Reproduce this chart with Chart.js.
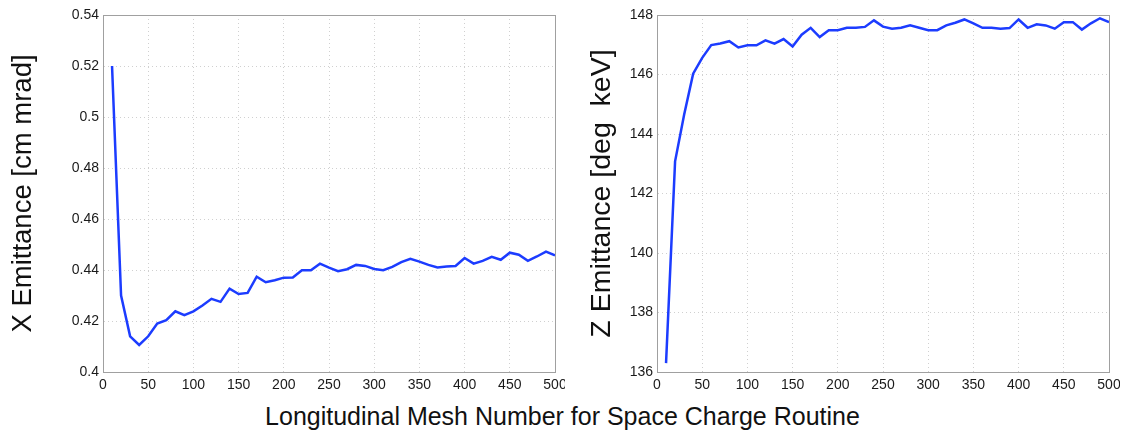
<!DOCTYPE html>
<html>
<head>
<meta charset="utf-8">
<script src="https://cdn.jsdelivr.net/npm/chart.js@4"></script>
<style>
  body { margin: 0; background: #fff; }
  #wrap { position: relative; width: 1125px; height: 435px; font-family: "Liberation Sans", Arial, sans-serif; }
  #leftBox { position: absolute; left: 0; top: 0; width: 565px; height: 400px; }
  #rightBox { position: absolute; left: 570px; top: 0; width: 550px; height: 400px; }
  #xTitle { position: absolute; left: 0; width: 1125px; top: 402px; text-align: center; font-size: 25px; color: #111; }
</style>
</head>
<body>
<div id="wrap">
  <div id="leftBox"><canvas id="xChart"></canvas></div>
  <div id="rightBox"><canvas id="zChart"></canvas></div>
  <div id="xTitle">Longitudinal Mesh Number for Space Charge Routine</div>
</div>
<script>
// mesh numbers 10..500
const meshNumbers = [10, 20, 30, 40, 50, 60, 70, 80, 90, 100,
  110, 120, 130, 140, 150, 160, 170, 180, 190, 200,
  210, 220, 230, 240, 250, 260, 270, 280, 290, 300,
  310, 320, 330, 340, 350, 360, 370, 380, 390, 400,
  410, 420, 430, 440, 450, 460, 470, 480, 490, 500];

// X emittance [cm mrad]
const xEmittance = [0.520, 0.430, 0.414, 0.4106, 0.414, 0.419, 0.4203, 0.4238, 0.4223, 0.4238,
  0.4261, 0.4287, 0.4275, 0.4327, 0.4306, 0.431, 0.4374, 0.4352, 0.436, 0.437,
  0.4371, 0.4399, 0.4399, 0.4425, 0.4409, 0.4395, 0.4403, 0.442, 0.4416, 0.4404,
  0.4399, 0.4412, 0.4431, 0.4444, 0.4433, 0.442, 0.441, 0.4414, 0.4416, 0.4447,
  0.4425, 0.4436, 0.4452, 0.444, 0.4468, 0.446, 0.4436, 0.4453, 0.4472, 0.4457];

// Z emittance [deg keV]
const zEmittance = [136.3, 143.08, 144.65, 146.03, 146.56, 146.99, 147.04, 147.12, 146.91, 146.98,
  146.98, 147.15, 147.04, 147.19, 146.94, 147.34, 147.57, 147.26, 147.49, 147.49,
  147.57, 147.57, 147.6, 147.82, 147.61, 147.54, 147.57, 147.65, 147.57, 147.49,
  147.49, 147.65, 147.74, 147.85, 147.72, 147.57, 147.57, 147.54, 147.56, 147.85,
  147.57, 147.69, 147.65, 147.54, 147.76, 147.76, 147.51, 147.72, 147.89, 147.76];

const lineColor = '#1c3cff';
const fontFamily = '"Liberation Sans", Arial, sans-serif';

// draws the grey box around the plot area, like matlab's "box on"
const boxPlugin = {
  id: 'box',
  afterDraw(chart) {
    const a = chart.chartArea;
    const ctx = chart.ctx;
    ctx.save();
    ctx.strokeStyle = '#a0a0a0';
    ctx.lineWidth = 1;
    ctx.strokeRect(a.left + 0.5, a.top + 0.5, a.right - a.left, a.bottom - a.top);
    ctx.restore();
  }
};

function makeChart(id, values, yMin, yMax, yStep, yTitle, titleSize, yWidth, titlePad, rightPad) {
  const points = meshNumbers.map((m, i) => ({ x: m, y: values[i] }));
  return new Chart(document.getElementById(id), {
    type: 'line',
    data: {
      datasets: [{
        data: points,
        borderColor: lineColor,
        borderWidth: 2.5,
        pointRadius: 0,
        tension: 0,
        fill: false
      }]
    },
    options: {
      responsive: true,
      maintainAspectRatio: false,
      animation: false,
      layout: { padding: { top: 15, right: rightPad, left: 0, bottom: 0 } },
      plugins: { legend: { display: false }, tooltip: { enabled: false } },
      scales: {
        x: {
          type: 'linear',
          min: 0,
          max: 500,
          grid: { color: '#d0d0d0', drawTicks: false },
          border: { display: true, color: '#a0a0a0', dash: [1, 3] },
          ticks: { stepSize: 50, padding: 5, color: '#1a1a1a', font: { family: fontFamily, size: 14 }, maxRotation: 0 },
          afterFit(scale) {
            scale.height = 28;
            scale.paddingLeft = 0;
            scale.paddingRight = 0;
          }
        },
        y: {
          min: yMin,
          max: yMax,
          grid: { color: '#d0d0d0', drawTicks: false },
          border: { display: true, color: '#a0a0a0', dash: [1, 3] },
          ticks: {
            stepSize: yStep,
            padding: 4,
            color: '#1a1a1a',
            font: { family: fontFamily, size: 14 },
            callback: v => String(Number(v.toFixed(2)))
          },
          title: {
            display: true,
            text: yTitle,
            color: '#111',
            font: { family: fontFamily, size: titleSize },
            padding: { top: titlePad, bottom: 0 }
          },
          afterFit(scale) {
            scale.width = yWidth;
            scale.paddingTop = 0;
            scale.paddingBottom = 0;
          }
        }
      }
    },
    plugins: [boxPlugin]
  });
}

const xChart = makeChart('xChart', xEmittance, 0.4, 0.54, 0.02, 'X Emittance [cm mrad]', 27.5, 103, 6.5, 10);
const zChart = makeChart('zChart', zEmittance, 136, 148, 2, 'Z Emittance [deg  keV]', 28.5, 87, 15, 11);
</script>
</body>
</html>
